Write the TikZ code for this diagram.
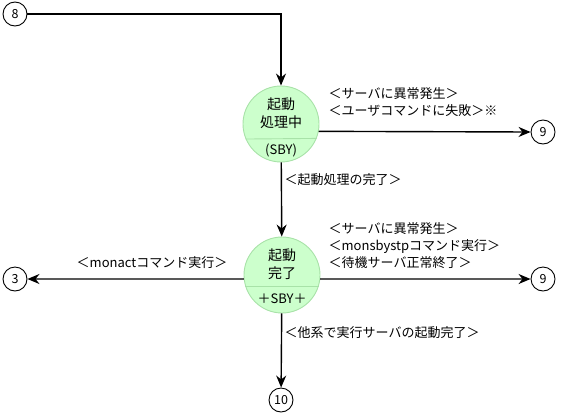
\documentclass[tikz,border=0pt]{standalone}
\usepackage{fontspec}
\setmainfont{Noto Sans CJK JP}
\usepackage{tikz}
\usetikzlibrary{arrows.meta,positioning}
\definecolor{stfill}{HTML}{CCFFCC}
\definecolor{stline}{HTML}{A8E2A8}

\begin{document}
\begin{tikzpicture}[x=1pt,y=-1pt,>={Stealth[length=12pt,width=10pt]},
  state/.style={draw=stline,fill=stfill,circle,minimum size=76pt,inner sep=0pt},
  conn/.style={draw,circle,fill=white,minimum size=24pt,inner sep=0pt,font=\fontsize{12.5}{13}\selectfont},
  lbl/.style={inner sep=0pt,align=left,font=\fontsize{13}{17}\selectfont},
  sttext/.style={inner sep=0pt,align=center,font=\fontsize{14}{18}\selectfont},
  every path/.style={line width=1.4pt}]
\useasboundingbox (0,0) rectangle (561,418);
\node[conn,line width=.9pt] (c8) at (15,14) {8};
\node[state,line width=.9pt] (st1) at (281,124) {};
\node[sttext] (st1t) at (281,113) {起動\\処理中};
\node[lbl] (st1s) at (281,150) {(SBY)};
\draw[stline,line width=.9pt] (st1.-157.6)--(st1.-22.4);
\node[state,line width=.9pt] (st2) at (282,275) {};
\node[sttext] (st2t) at (282,264) {起動\\完了};
\node[lbl] (st2s) at (282,299) {＋SBY＋};
\draw[stline,line width=.9pt] (st2.-162)--(st2.-18);
\node[conn,line width=.9pt] (c9a) at (543,132) {9};
\node[conn,line width=.9pt] (c3) at (15,279) {3};
\node[conn,line width=.9pt] (c9b) at (543,279) {9};
\node[conn,line width=.9pt] (c10) at (281,400) {10};
\draw[->] (c8.east)--(c8.east -| st1.north)--(st1.north);
\draw[->] (st1.-11)--(c9a.west);
\draw[->] (st1)--(st2);
\draw[->] (st2.186)--(c3.east);
\draw[->] (st2.-6)--(c9b.west);
\draw[->] (st2)--(c10);
\node[lbl,anchor=north west] (l1) at (328,87) {＜サーバに異常発生＞\\＜ユーザコマンドに失敗＞※};
\node[lbl,anchor=west] (l2) at (284,180) {＜起動処理の完了＞};
\node[lbl] (l3) at (152,263) {＜monactコマンド実行＞};
\node[lbl,anchor=north west] (l4) at (328,222) {＜サーバに異常発生＞\\＜monsbystpコマンド実行＞\\＜待機サーバ正常終了＞};
\node[lbl,anchor=west] (l5) at (284,333) {＜他系で実行サーバの起動完了＞};
\end{tikzpicture}
\end{document}
